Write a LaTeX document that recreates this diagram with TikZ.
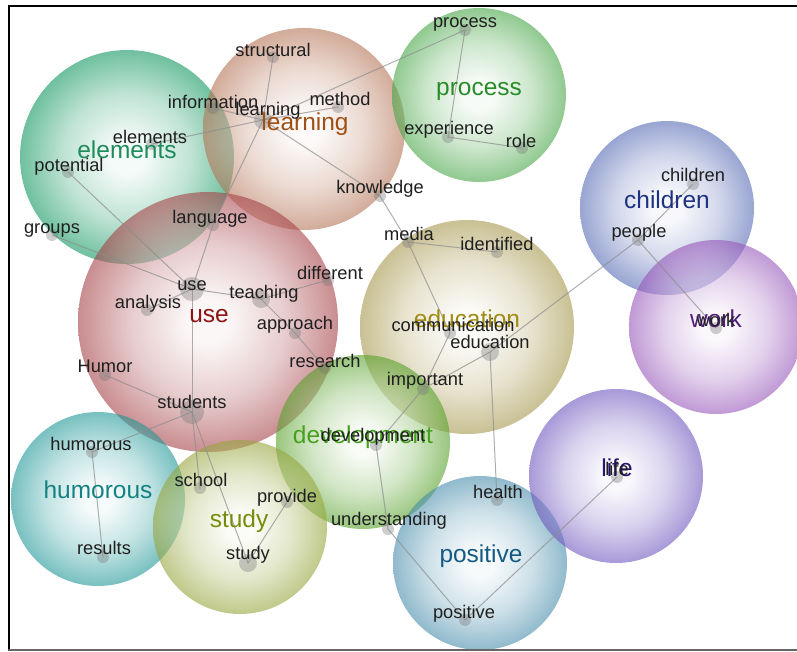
\documentclass[tikz,border=0pt]{standalone}
\usepackage{fontspec}
\setmainfont{Liberation Sans}
\usepackage{tikz}

% bubble colours (rim) and topic text colours
\definecolor{elementsB}{RGB}{15,150,95}
\definecolor{learningB}{RGB}{180,115,85}
\definecolor{processB}{RGB}{70,165,70}
\definecolor{childrenB}{RGB}{85,105,180}
\definecolor{workB}{RGB}{150,85,185}
\definecolor{useB}{RGB}{165,65,70}
\definecolor{educationB}{RGB}{165,150,75}
\definecolor{developmentB}{RGB}{85,160,40}
\definecolor{humorousB}{RGB}{30,150,150}
\definecolor{studyB}{RGB}{150,165,60}
\definecolor{positiveB}{RGB}{70,140,170}
\definecolor{lifeB}{RGB}{110,85,190}
\definecolor{elementsT}{RGB}{30,140,90}
\definecolor{learningT}{RGB}{160,80,20}
\definecolor{processT}{RGB}{40,140,40}
\definecolor{childrenT}{RGB}{30,50,130}
\definecolor{workT}{RGB}{80,30,120}
\definecolor{useT}{RGB}{140,20,20}
\definecolor{educationT}{RGB}{160,140,20}
\definecolor{developmentT}{RGB}{70,160,30}
\definecolor{humorousT}{RGB}{20,130,130}
\definecolor{studyT}{RGB}{120,140,10}
\definecolor{positiveT}{RGB}{20,90,130}
\definecolor{lifeT}{RGB}{40,20,110}

\colorlet{bubcol}{white}
\colorlet{bubmid}{white}
\colorlet{bubin}{white}
\pgfdeclareradialshading[bubcol,bubmid,bubin]{bubble}{\pgfpoint{0bp}{0bp}}{%
  color(0bp)=(bubin); color(4bp)=(bubin); color(15bp)=(bubmid);
  color(25bp)=(bubcol); color(50bp)=(bubcol)}

\begin{document}
\begin{tikzpicture}[x=0.25mm,y=-0.25mm,line cap=round,
  bubble/.style={shading=bubble,fill opacity=0.6,
    /utils/exec={\colorlet{bubcol}{#1}\colorlet{bubmid}{white!55!#1}\colorlet{bubin}{white!93!#1}}},
  dot/.style={circle,fill=black!55,fill opacity=0.35,inner sep=0pt,minimum size=3mm},
  dotm/.style={dot,minimum size=4.5mm},
  dotl/.style={dot,minimum size=6mm},
  link/.style={black!45,line width=0.25mm,draw opacity=0.7},
  word/.style={anchor=base,inner sep=0pt,text=black!88,font=\fontsize{13}{15}\selectfont},
  topic/.style={anchor=base,inner sep=0pt,font=\fontsize{17.4}{20}\selectfont}]
\useasboundingbox (0,0) rectangle (797,651);

% groups
\shade[bubble=elementsB] (127,157) circle (107);
\shade[bubble=learningB] (304,129) circle (101);
\shade[bubble=processB] (479,95) circle (87);
\shade[bubble=childrenB] (667,208) circle (87);
\shade[bubble=workB] (716,327) circle (87);
\shade[bubble=useB] (208,322) circle (130);
\shade[bubble=educationB] (467,327) circle (107);
\shade[bubble=developmentB] (363,442) circle (87);
\shade[bubble=humorousB] (98,499) circle (87);
\shade[bubble=studyB] (240,527) circle (87);
\shade[bubble=positiveB] (480,563) circle (87);
\shade[bubble=lifeB] (616,476) circle (87);

% words
\node[dot] (structural) at (273,57) {};
\node[dot] (information) at (213,108) {};
\node[dotm] (learning) at (263,120) {};
\node[dot] (method) at (338,107) {};
\node[dot] (elements) at (152,144) {};
\node[dot] (potential) at (68,172) {};
\node[dot] (groups) at (52,235) {};
\node[dot] (language) at (213,225) {};
\node[dotl] (use) at (192,289) {};
\node[dot] (analysis) at (147,310) {};
\node[dotm] (teaching) at (261,299) {};
\node[dot] (different) at (328,280) {};
\node[dot] (approach) at (295,333) {};
\node[dot] (research) at (325,368) {};
\node[dot] (Humor) at (105,375) {};
\node[dotl] (students) at (192,412) {};
\node[dot] (humorous) at (92,452) {};
\node[dot] (results) at (103,557) {};
\node[dot] (school) at (200,488) {};
\node[dot] (provide) at (287,502) {};
\node[dotm] (study) at (248,563) {};
\node[dot] (knowledge) at (380,196) {};
\node[dot] (media) at (408,242) {};
\node[dot] (identified) at (497,252) {};
\node[dot] (communication) at (450,333) {};
\node[dotm] (education) at (490,352) {};
\node[dot] (important) at (423,389) {};
\node[dot] (development) at (376,445) {};
\node[dot] (understanding) at (388,529) {};
\node[dot] (health) at (497,500) {};
\node[dot] (positive) at (465,620) {};
\node[dot] (life) at (617,477) {};
\node[dot] (work) at (716,328) {};
\node[dot] (people) at (638,240) {};
\node[dot] (children) at (693,184) {};
\node[dot] (process) at (465,30) {};
\node[dot] (experience) at (448,137) {};
\node[dot] (role) at (522,148) {};

% co-occurrence
\draw[link] (learning.center) -- (structural.center);
\draw[link] (learning.center) -- (information.center);
\draw[link] (learning.center) -- (method.center);
\draw[link] (learning.center) -- (elements.center);
\draw[link] (learning.center) -- (language.center);
\draw[link] (learning.center) -- (knowledge.center);
\draw[link] (learning.center) -- (process.center);
\draw[link] (language.center) -- (use.center);
\draw[link] (use.center) -- (potential.center);
\draw[link] (use.center) -- (groups.center);
\draw[link] (use.center) -- (analysis.center);
\draw[link] (use.center) -- (teaching.center);
\draw[link] (use.center) -- (students.center);
\draw[link] (teaching.center) -- (different.center);
\draw[link] (teaching.center) -- (approach.center);
\draw[link] (approach.center) -- (research.center);
\draw[link] (students.center) -- (Humor.center);
\draw[link] (students.center) -- (humorous.center);
\draw[link] (students.center) -- (school.center);
\draw[link] (students.center) -- (study.center);
\draw[link] (humorous.center) -- (results.center);
\draw[link] (study.center) -- (provide.center);
\draw[link] (knowledge.center) -- (media.center);
\draw[link] (media.center) -- (identified.center);
\draw[link] (media.center) -- (communication.center);
\draw[link] (communication.center) -- (important.center);
\draw[link] (education.center) -- (important.center);
\draw[link] (important.center) -- (development.center);
\draw[link] (development.center) -- (understanding.center);
\draw[link] (understanding.center) -- (positive.center);
\draw[link] (positive.center) -- (life.center);
\draw[link] (education.center) -- (health.center);
\draw[link] (education.center) -- (people.center);
\draw[link] (people.center) -- (children.center);
\draw[link] (people.center) -- (work.center);
\draw[link] (process.center) -- (experience.center);
\draw[link] (experience.center) -- (role.center);

% group names
\node[topic,text=elementsT] (elements-grp) at (127,158) {elements};
\node[topic,text=learningT] (learning-grp) at (305,130) {learning};
\node[topic,text=processT] (process-grp) at (479,95) {process};
\node[topic,text=childrenT] (children-grp) at (667,208) {children};
\node[topic,text=workT] (work-grp) at (716,327) {work};
\node[topic,text=useT] (use-grp) at (209,322) {use};
\node[topic,text=educationT] (education-grp) at (467,327) {education};
\node[topic,text=developmentT] (development-grp) at (363,443) {development};
\node[topic,text=humorousT] (humorous-grp) at (98,498) {humorous};
\node[topic,text=studyT] (study-grp) at (239,527) {study};
\node[topic,text=positiveT] (positive-grp) at (481,562) {positive};
\node[topic,text=lifeT] (life-grp) at (617,476) {life};

% word labels
\node[word] (structural-txt) at (273,56) {structural};
\node[word] (information-txt) at (213,108) {information};
\node[word] (learning-txt) at (268,115) {learning};
\node[word] (method-txt) at (340,105) {method};
\node[word] (elements-txt) at (150,143) {elements};
\node[word] (potential-txt) at (69,171) {potential};
\node[word] (groups-txt) at (52,233) {groups};
\node[word] (language-txt) at (210,223) {language};
\node[word] (use-txt) at (192,290) {use};
\node[word] (analysis-txt) at (148,308) {analysis};
\node[word] (teaching-txt) at (264,298) {teaching};
\node[word] (different-txt) at (330,279) {different};
\node[word] (approach-txt) at (295,329) {approach};
\node[word] (research-txt) at (325,367) {research};
\node[word] (Humor-txt) at (105,372) {Humor};
\node[word] (students-txt) at (192,408) {students};
\node[word] (humorous-txt) at (91,450) {humorous};
\node[word] (results-txt) at (104,554) {results};
\node[word] (school-txt) at (201,486) {school};
\node[word] (provide-txt) at (287,502) {provide};
\node[word] (study-txt) at (248,559) {study};
\node[word] (knowledge-txt) at (380,193) {knowledge};
\node[word] (media-txt) at (409,240) {media};
\node[word] (identified-txt) at (497,250) {identified};
\node[word] (communication-txt) at (453,331) {communication};
\node[word] (education-txt) at (490,348) {education};
\node[word] (important-txt) at (425,385) {important};
\node[word] (development-txt) at (373,441) {development};
\node[word] (understanding-txt) at (389,525) {understanding};
\node[word] (health-txt) at (498,498) {health};
\node[word] (positive-txt) at (464,618) {positive};
\node[word] (life-txt) at (617,475) {life};
\node[word] (work-txt) at (716,326) {work};
\node[word] (people-txt) at (639,237) {people};
\node[word] (children-txt) at (693,181) {children};
\node[word] (process-txt) at (465,27) {process};
\node[word] (experience-txt) at (449,134) {experience};
\node[word] (role-txt) at (521,147) {role};

% frame
\draw[line width=0.55mm] (9,650) -- (9,6) -- (797,6);
\draw[black!60,line width=0.5mm] (9,650) -- (797,650);
\end{tikzpicture}
\end{document}
